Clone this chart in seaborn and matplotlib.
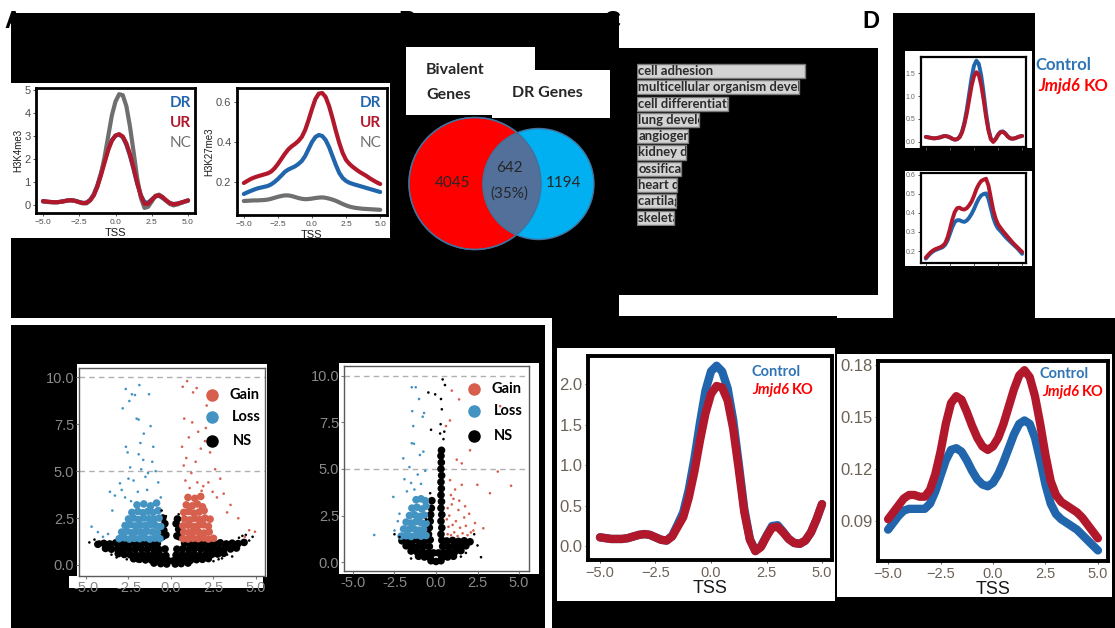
import numpy as np
import pandas as pd
import matplotlib
matplotlib.use("Agg")
import matplotlib.pyplot as plt
import seaborn as sns
from matplotlib.patches import Rectangle, Circle
from matplotlib.lines import Line2D
from matplotlib.transforms import TransformedBbox

sns.set_theme(style="white")
plt.rcParams['font.family'] = ['Liberation Sans', 'DejaVu Sans']

# ---------------- data ----------------
tss = [-5.0, -4.75, -4.5, -4.25, -4.0, -3.75, -3.5, -3.25, -3.0, -2.75, -2.5, -2.25, -2.0, -1.75,
       -1.5, -1.25, -1.0, -0.75, -0.5, -0.25, 0.0, 0.25, 0.5, 0.75, 1.0, 1.25, 1.5, 1.75, 2.0,
       2.25, 2.5, 2.75, 3.0, 3.25, 3.5, 3.75, 4.0, 4.25, 4.5, 4.75, 5.0]

# Panel A: H3K4me3 profile
a1_dr = [0.16, 0.14, 0.13, 0.12, 0.12, 0.14, 0.17, 0.2, 0.21, 0.18, 0.13, 0.09, 0.1, 0.22, 0.46, 0.86,
         1.38, 1.92, 2.45, 2.82, 3.02, 3.06, 2.95, 2.62, 2.14, 1.55, 0.92, 0.42, 0.12, 0.1, 0.24, 0.37,
         0.4, 0.3, 0.18, 0.08, 0.04, 0.06, 0.1, 0.14, 0.18]
a1_ur = [0.17, 0.15, 0.13, 0.12, 0.12, 0.14, 0.17, 0.2, 0.2, 0.17, 0.12, 0.08, 0.09, 0.2, 0.42, 0.8,
         1.3, 1.85, 2.4, 2.8, 3.02, 3.08, 2.98, 2.68, 2.2, 1.6, 0.95, 0.4, 0.05, 0.05, 0.22, 0.38,
         0.42, 0.33, 0.2, 0.08, 0.03, 0.05, 0.1, 0.15, 0.2]
a1_nc = [0.15, 0.13, 0.12, 0.12, 0.12, 0.14, 0.17, 0.2, 0.2, 0.17, 0.12, 0.07, 0.07, 0.2, 0.42, 0.8,
         1.35, 2.1, 3.0, 3.9, 4.5, 4.82, 4.78, 4.3, 3.4, 2.3, 1.15, 0.3, -0.13, -0.08, 0.15, 0.4,
         0.45, 0.35, 0.18, 0.04, -0.02, 0.02, 0.08, 0.14, 0.2]
# Panel A: H3K27me3 profile
a2_dr = [0.14, 0.148, 0.155, 0.162, 0.168, 0.172, 0.176, 0.18, 0.188, 0.2, 0.215, 0.232, 0.25, 0.262,
         0.27, 0.278, 0.29, 0.305, 0.33, 0.365, 0.4, 0.425, 0.435, 0.43, 0.41, 0.375, 0.33, 0.285,
         0.245, 0.22, 0.205, 0.196, 0.19, 0.185, 0.18, 0.175, 0.17, 0.165, 0.16, 0.155, 0.15]
a2_ur = [0.195, 0.205, 0.215, 0.222, 0.228, 0.233, 0.238, 0.243, 0.252, 0.268, 0.29, 0.315, 0.34,
         0.362, 0.378, 0.39, 0.405, 0.425, 0.46, 0.51, 0.565, 0.615, 0.642, 0.645, 0.625, 0.58, 0.52,
         0.455, 0.395, 0.345, 0.31, 0.29, 0.275, 0.262, 0.25, 0.24, 0.23, 0.218, 0.208, 0.198, 0.19]
a2_nc = [0.105, 0.106, 0.107, 0.108, 0.108, 0.109, 0.11, 0.112, 0.116, 0.121, 0.126, 0.13, 0.133,
         0.133, 0.13, 0.125, 0.12, 0.116, 0.114, 0.115, 0.117, 0.12, 0.122, 0.123, 0.121, 0.117,
         0.112, 0.106, 0.098, 0.09, 0.083, 0.077, 0.073, 0.07, 0.068, 0.066, 0.065, 0.064, 0.063,
         0.062, 0.061]

# Panel B: Venn
venn_bivalent_only = 4045
venn_overlap = 642
venn_overlap_pct = "35%"
venn_dr_only = 1194

# Panel C: GO terms (bar length, arbitrary units)
go_terms = ["cell adhesion", "multicellular organism development", "cell differentiation",
            "lung development", "angiogenesis", "kidney development", "ossification",
            "heart development", "cartilage development", "skeletal system development"]
go_scores = [168, 162, 91, 62, 51, 49, 44, 40, 39, 37]

# Panel D: small profiles
d1_ctl = [0.11, 0.1, 0.09, 0.08, 0.08, 0.09, 0.1, 0.12, 0.13, 0.12, 0.1, 0.07, 0.05, 0.06, 0.11, 0.22,
          0.42, 0.7, 1.05, 1.4, 1.66, 1.77, 1.7, 1.45, 1.07, 0.64, 0.29, 0.07, 0.01, 0.07, 0.16, 0.22,
          0.23, 0.19, 0.12, 0.08, 0.07, 0.08, 0.1, 0.12, 0.13]
d1_ko = [0.11, 0.1, 0.09, 0.08, 0.08, 0.09, 0.1, 0.12, 0.13, 0.12, 0.1, 0.07, 0.05, 0.06, 0.1, 0.2,
         0.38, 0.62, 0.92, 1.22, 1.43, 1.52, 1.46, 1.24, 0.92, 0.55, 0.25, 0.06, 0.0, 0.06, 0.15, 0.21,
         0.22, 0.18, 0.12, 0.08, 0.07, 0.08, 0.1, 0.12, 0.13]
d2_ctl = [0.16, 0.175, 0.188, 0.198, 0.205, 0.21, 0.215, 0.22, 0.232, 0.255, 0.29, 0.325, 0.352, 0.362,
          0.362, 0.356, 0.353, 0.36, 0.375, 0.395, 0.42, 0.45, 0.475, 0.492, 0.5, 0.503, 0.475, 0.425,
          0.375, 0.34, 0.318, 0.305, 0.29, 0.275, 0.262, 0.25, 0.238, 0.226, 0.214, 0.2, 0.185]
d2_ko = [0.165, 0.18, 0.193, 0.203, 0.21, 0.215, 0.22, 0.227, 0.24, 0.27, 0.315, 0.365, 0.405, 0.425,
         0.428, 0.42, 0.418, 0.425, 0.44, 0.46, 0.49, 0.525, 0.55, 0.568, 0.575, 0.58, 0.545, 0.48,
         0.415, 0.37, 0.34, 0.322, 0.305, 0.29, 0.275, 0.26, 0.245, 0.232, 0.22, 0.207, 0.195]

# Panel F / G profiles
f_ctl = [0.11, 0.10, 0.09, 0.09, 0.09, 0.10, 0.12, 0.14, 0.15, 0.14, 0.11, 0.08, 0.07, 0.13, 0.27, 0.42,
         0.70, 1.08, 1.52, 1.92, 2.16, 2.23, 2.16, 1.95, 1.56, 1.02, 0.46, 0.09, -0.06, 0.0, 0.13, 0.25,
         0.26, 0.18, 0.09, 0.04, 0.03, 0.07, 0.17, 0.33, 0.52]
f_ko = [0.11, 0.10, 0.09, 0.09, 0.09, 0.10, 0.12, 0.14, 0.15, 0.14, 0.11, 0.08, 0.07, 0.12, 0.24, 0.36,
        0.60, 0.92, 1.30, 1.64, 1.88, 1.98, 1.96, 1.80, 1.45, 0.95, 0.42, 0.08, -0.06, -0.01, 0.12, 0.23,
        0.24, 0.17, 0.09, 0.04, 0.03, 0.07, 0.17, 0.33, 0.52]
g_ctl = [0.085, 0.089, 0.093, 0.096, 0.097, 0.097, 0.097, 0.097, 0.1, 0.107, 0.116, 0.125, 0.131, 0.132,
         0.13, 0.125, 0.119, 0.114, 0.111, 0.11, 0.112, 0.117, 0.124, 0.132, 0.14, 0.146, 0.148, 0.146,
         0.138, 0.125, 0.111, 0.1, 0.094, 0.091, 0.089, 0.087, 0.085, 0.082, 0.079, 0.076, 0.073]
g_ko = [0.091, 0.095, 0.099, 0.103, 0.105, 0.105, 0.104, 0.104, 0.108, 0.117, 0.13, 0.146, 0.158, 0.162,
        0.16, 0.153, 0.145, 0.138, 0.133, 0.131, 0.133, 0.138, 0.146, 0.156, 0.166, 0.174, 0.177, 0.173,
        0.162, 0.146, 0.128, 0.113, 0.105, 0.101, 0.099, 0.097, 0.095, 0.092, 0.088, 0.084, 0.08]

# Panel E: volcano plots (log2FC, -log10 p)
v1_loss_x = [-2.45, -2.3, -2.12, -2.66, -1.86, -1.29, -2.84, -2.02, -1.9, -1.6, -1.2, -2.65, -2.55, -1.8,
             -1.04, -1.9, -1.63, -1.1, -2.4, -1.75, -1.35, -2.5, -3.0, -3.59, -3.3, -4.67, -4.3, -4.0,
             -3.7, -2.9, -2.2, -1.5, -0.9, -0.75, -2.7, -1.95, -1.4, -3.45, -2.35, -0.6]
v1_loss_y = [8.74, 9.1, 9.06, 9.38, 9.59, 9.1, 8.35, 7.8, 7.75, 7.0, 7.4, 6.3, 6.0, 6.5, 6.3, 5.9, 5.6,
             5.5, 5.2, 5.1, 4.9, 4.6, 4.35, 3.9, 3.7, 2.04, 1.75, 1.5, 1.65, 4.0, 4.5, 4.7, 5.0, 4.4,
             3.6, 3.9, 4.0, 2.9, 3.4, 3.6]
v1_loss_core_x = [-3.05, -2.75, -2.45, -2.15, -1.85, -1.55, -1.25, -0.95, -0.65,
                  -2.9, -2.6, -2.3, -2.0, -1.7, -1.4, -1.1, -0.8,
                  -2.7, -2.4, -2.1, -1.8, -1.5, -1.2, -0.9, -0.6,
                  -2.5, -2.2, -1.9, -1.6, -1.3, -1.0, -0.7,
                  -2.3, -1.95, -1.65, -1.35, -1.05, -0.75,
                  -2.0, -1.6, -1.2, -0.85]
v1_loss_core_y = [1.4, 1.45, 1.38, 1.42, 1.4, 1.45, 1.38, 1.43, 1.4,
                  1.75, 1.8, 1.72, 1.78, 1.74, 1.8, 1.76, 1.72,
                  2.1, 2.15, 2.08, 2.12, 2.1, 2.16, 2.1, 2.05,
                  2.45, 2.5, 2.42, 2.5, 2.46, 2.44, 2.5,
                  2.8, 2.85, 2.78, 2.86, 2.8, 2.9,
                  3.2, 3.25, 3.15, 3.3]
v1_gain_x = [0.69, 0.95, 1.51, 1.3, 2.1, 0.78, 1.25, 1.6, 1.05, 2.0, 1.75, 2.3, 0.9, 1.45, 2.6, 2.9, 1.2,
             0.75, 2.2, 3.1, 3.5, 3.96, 4.35, 4.94, 4.6, 2.7, 1.9, 1.55, 0.85, 2.45, 1.1, 1.8, 3.3,
             0.65, 2.05]
v1_gain_y = [9.5, 9.8, 9.43, 9.2, 8.5, 7.8, 7.6, 7.1, 6.8, 6.6, 6.2, 6.0, 5.7, 5.5, 5.1, 4.6, 4.9, 5.3,
             4.4, 3.8, 3.2, 2.49, 1.5, 1.77, 1.85, 3.6, 4.2, 4.4, 4.5, 3.9, 4.1, 3.95, 2.8, 6.3, 7.3]
v1_gain_core_x = [0.7, 1.0, 1.3, 1.6, 1.9, 2.2, 2.5,
                  0.75, 1.05, 1.35, 1.65, 1.95, 2.25,
                  0.7, 1.0, 1.3, 1.6, 1.9, 2.2,
                  0.8, 1.1, 1.4, 1.7, 2.0, 2.3,
                  0.75, 1.05, 1.35, 1.65, 1.95,
                  0.9, 1.25, 1.55, 1.85,
                  1.0, 1.4, 1.75]
v1_gain_core_y = [1.4, 1.38, 1.42, 1.4, 1.44, 1.38, 1.42,
                  1.75, 1.72, 1.78, 1.74, 1.7, 1.76,
                  2.08, 2.12, 2.05, 2.1, 2.14, 2.06,
                  2.45, 2.4, 2.48, 2.42, 2.5, 2.44,
                  2.8, 2.85, 2.76, 2.82, 2.9,
                  3.2, 3.15, 3.25, 3.1,
                  3.6, 3.55, 3.65]
v1_ns_x = [-4.5, -4.2, -3.5, -3.2, -2.6, -2.0, -1.5, 3.0, 2.8, 3.6, 4.0, 4.4, 4.6, 4.2, -0.55, 0.45,
           -0.3, 0.25, -4.8, 2.5, 1.2, -1.1, 3.3, 4.8]
v1_ns_y = [1.35, 1.25, 0.55, 0.4, 0.3, 0.2, 0.15, 0.35, 0.3, 0.45, 1.45, 1.6, 1.3, 1.55, 2.9, 2.7, 2.6,
           2.45, 1.2, 0.2, 0.12, 0.12, 0.55, 1.5]
v1_ns_core_x = [-4.3, -3.95, -3.6, -3.25, -2.9, -2.55, -2.2, -1.85, -1.5, -1.15, -0.8, 0.8, 1.15, 1.5,
                1.85, 2.2, 2.55, 2.9, 3.25, 3.6, 3.95, 4.3,
                -3.85, -3.5, -3.15, -2.8, -2.45, -2.1, -1.75, -1.4, -1.05, -0.7, -0.35, 0.35, 0.7, 1.05,
                1.4, 1.75, 2.1, 2.45, 2.8, 3.15, 3.5, 3.85,
                -3.1, -2.75, -2.4, -2.05, -1.7, -1.35, -1.0, -0.65, -0.3, 0.3, 0.65, 1.0, 1.35, 1.7,
                2.05, 2.4, 2.75, 3.1,
                -2.2, -1.85, -1.5, -1.15, -0.8, -0.45, -0.15, 0.15, 0.45, 0.8, 1.15, 1.5, 1.85, 2.2,
                -1.0, -0.6, -0.25, 0.25, 0.6, 1.0,
                -0.5, -0.42, -0.36, -0.48, -0.3, 0.35, 0.45, 0.3, 0.5, 0.38]
v1_ns_core_y = [1.1, 1.15, 1.12, 1.18, 1.14, 1.1, 1.16, 1.12, 1.18, 1.13, 1.15, 1.16, 1.12, 1.17, 1.11,
                1.15, 1.13, 1.18, 1.12, 1.16, 1.14, 1.2,
                0.88, 0.84, 0.86, 0.82, 0.85, 0.83, 0.87, 0.84, 0.86, 0.82, 0.85, 0.84, 0.86, 0.83,
                0.87, 0.85, 0.82, 0.86, 0.84, 0.88, 0.85, 0.9,
                0.6, 0.56, 0.54, 0.52, 0.55, 0.53, 0.56, 0.52, 0.5, 0.52, 0.55, 0.53, 0.56, 0.52, 0.54,
                0.56, 0.58, 0.62,
                0.33, 0.3, 0.27, 0.26, 0.25, 0.24, 0.22, 0.22, 0.24, 0.25, 0.26, 0.28, 0.3, 0.34,
                0.1, 0.07, 0.05, 0.05, 0.07, 0.1,
                1.5, 1.85, 2.2, 2.5, 1.6, 1.55, 1.9, 2.2, 1.5, 2.45]

v2_loss_x = [-1.46, -1.22, -1.02, -1.43, -0.72, -0.8, -1.37, -1.46, -1.33, -0.76, -1.97, -0.97, -1.6,
             -1.9, -1.5, -2.57, -3.72, -2.5, -2.2, -1.1, -0.65, -2.3, -1.75, -0.9, -1.3]
v2_loss_y = [9.38, 9.38, 8.75, 8.1, 8.0, 7.8, 7.3, 6.38, 6.35, 5.93, 5.57, 5.75, 5.1, 4.45, 4.25, 3.5,
             1.46, 1.7, 2.6, 4.7, 4.9, 2.2, 3.8, 4.2, 3.9]
v2_loss_core_x = [-2.1, -1.8, -1.5, -1.2, -0.9, -0.6,
                  -1.95, -1.65, -1.35, -1.05, -0.75,
                  -1.8, -1.5, -1.2, -0.9, -0.6,
                  -1.6, -1.3, -1.0, -0.7,
                  -1.45, -1.15, -0.85, -0.6,
                  -1.2, -0.9, -0.65]
v2_loss_core_y = [1.4, 1.42, 1.38, 1.45, 1.4, 1.43,
                  1.78, 1.75, 1.8, 1.72, 1.76,
                  2.15, 2.1, 2.18, 2.12, 2.08,
                  2.5, 2.55, 2.45, 2.52,
                  2.9, 2.95, 2.85, 3.0,
                  3.35, 3.4, 3.3]
v2_gain_x = [0.95, 1.39, 3.86, 0.84, 0.6, 2.05, 1.25, 1.55, 3.72, 4.52, 3.25, 2.49, 1.55, 1.15, 0.85,
             2.85, 2.25, 0.7, 0.9, 1.1, 1.3, 1.6, 1.9, 2.1, 0.75, 1.0, 1.45, 1.8, 0.65, 0.8, 1.2, 1.7,
             2.0, 0.7, 0.95, 1.35, 1.05, 0.9, 1.4, 2.35, 1.75]
v2_gain_y = [9.2, 8.73, 8.37, 7.6, 7.3, 6.0, 5.5, 5.3, 4.86, 4.1, 3.7, 4.15, 4.15, 3.9, 4.4, 1.82, 1.7,
             1.5, 1.45, 1.6, 1.4, 1.55, 1.45, 1.6, 1.9, 2.0, 1.85, 1.95, 2.3, 2.5, 2.2, 2.4, 2.6, 2.9,
             3.1, 2.8, 3.4, 3.6, 3.3, 2.1, 3.0]
v2_ns_x = [0.4, 0.54, 0.3, -0.46, -0.3, 0.35, 0.28, 0.45, -0.05, 2.71, 2.3, 2.06, -2.5, -2.2, 1.8, 2.5,
           0.5, 0.25, -0.35, -0.6, 1.5, -1.5]
v2_ns_y = [9.8, 9.5, 8.75, 9.1, 7.1, 8.2, 7.4, 6.6, 9.0, 0.27, 1.5, 1.05, 1.5, 1.35, 0.5, 0.9, 7.0, 6.9,
           3.7, 2.3, 0.3, 0.2]
v2_ns_core_x = [-2.05, -1.7, -1.35, -1.0, -0.65, -0.35, 0.35, 0.65, 1.0, 1.35, 1.7, 2.05,
                -1.8, -1.45, -1.1, -0.75, -0.4, 0.4, 0.75, 1.1, 1.45, 1.8,
                -1.5, -1.15, -0.8, -0.45, -0.15, 0.15, 0.45, 0.8, 1.15, 1.5,
                -1.05, -0.7, -0.35, 0.35, 0.7, 1.05,
                -0.3, 0.0, 0.3,
                -0.45, -0.4, -0.35, -0.32, -0.28, -0.25, -0.55,
                0.3, 0.35, 0.3, 0.35, 0.3, 0.33, 0.3, 0.32, 0.3, 0.34, 0.3, 0.32, 0.3, 0.33]
v2_ns_core_y = [1.15, 1.12, 1.17, 1.13, 1.16, 1.2, 1.18, 1.14, 1.17, 1.12, 1.15, 1.1,
                0.88, 0.85, 0.83, 0.86, 0.84, 0.85, 0.83, 0.86, 0.84, 0.88,
                0.6, 0.56, 0.54, 0.52, 0.5, 0.5, 0.53, 0.55, 0.57, 0.62,
                0.32, 0.28, 0.25, 0.25, 0.28, 0.32,
                0.08, 0.04, 0.08,
                1.5, 1.85, 2.2, 2.55, 2.9, 3.3, 1.9,
                1.5, 1.85, 2.2, 2.55, 2.9, 3.25, 3.6, 3.95, 4.3, 4.65, 5.0, 5.35, 5.7, 6.0]
volcano_thresholds = [5.0, 10.0]

# tick labels
tss_ticks = [-5.0, -2.5, 0.0, 2.5, 5.0]
tss_labels = ["\u22125.0", "\u22122.5", "0.0", "2.5", "5.0"]
volc_xlabels = ["-5.0", "-2.5", "0.0", "2.5", "5.0"]
volc_yticks = [0.0, 2.5, 5.0, 7.5, 10.0]
volc_ylabels = ["0.0", "2.5", "5.0", "7.5", "10.0"]

# ---------------- styling ----------------
BLUE = "#2166ac"
RED = "#b2182b"
GREY = "#6f6f6f"
TXT_BLUE = "#2e75b6"
TXT_RED = "#ff0000"
GAIN = "#d6604d"
LOSS = "#4393c3"
CAL = ['Lato', 'DejaVu Sans']

W, H = 1115, 628
fig = plt.figure(figsize=(W / 100, H / 100), dpi=100)
fig.patch.set_facecolor("white")


def box(x0, y0, x1, y1):
    return [x0 / W, 1 - y1 / H, (x1 - x0) / W, (y1 - y0) / H]


def rect(x0, y0, x1, y1, color, z):
    fig.add_artist(Rectangle((x0 / W, 1 - y1 / H), (x1 - x0) / W, (y1 - y0) / H,
                             transform=fig.transFigure, facecolor=color, edgecolor="none", zorder=z))


def ftext(x, y, s, **kw):
    kw.setdefault("va", "center")
    return fig.text(x / W, 1 - y / H, s, **kw)


# panel letters (partly hidden)
for (lx, ly, l) in [(4, 22, "A"), (398, 22, "B"), (604, 22, "C"), (862, 21, "D")]:
    ftext(lx, ly, l, fontsize=17, fontweight="bold", color="black", zorder=-3)

# black redaction blocks
for r in [(11, 13, 619, 318), (619, 48, 878, 295), (893, 13, 1035, 318),
          (11, 325, 545, 628), (552, 316, 837, 628), (836, 318, 1115, 628)]:
    rect(*r, "black", -2)
# white panel boxes
for r in [(11, 83, 390, 238), (406, 47, 535, 115), (492, 70, 610, 118),
          (905, 51, 1032, 148), (905, 171, 1032, 266),
          (77, 364, 267, 577), (69, 576, 263, 588), (339, 363, 539, 574),
          (557, 348, 835, 601), (837, 354, 1112, 597)]:
    rect(*r, "white", -1)


def profile(px, xlim, ylim, series, colors, lw, yticks, ylabels, ytick_fs, xtick_fs,
            show_xlabels=True, ylab=None, xlab="TSS", xlab_fs=8, spine_lw=2.0,
            tick_color="#4d4d4d", xlab_pad=0.5):
    ax = fig.add_axes(box(*px))
    names = list(series.keys())
    df = pd.DataFrame({"TSS": tss * len(names),
                       "signal": sum([series[n] for n in names], []),
                       "group": sum([[n] * len(tss) for n in names], [])})
    sns.lineplot(data=df, x="TSS", y="signal", hue="group", hue_order=names,
                 palette=colors, linewidth=lw, legend=False, errorbar=None, ax=ax,
                 solid_capstyle="round")
    ax.set_xlim(*xlim)
    ax.set_ylim(*ylim)
    ax.set_facecolor("white")
    for s in ax.spines.values():
        s.set_color("black")
        s.set_linewidth(spine_lw)
    ax.set_yticks(yticks)
    ax.set_yticklabels(ylabels)
    ax.set_xticks(tss_ticks)
    if show_xlabels:
        ax.set_xticklabels(tss_labels)
    else:
        ax.set_xticklabels([])
    ax.tick_params(axis="both", which="both", direction="out", bottom=True, left=True,
                   length=2.5, width=0.7, color="#555555", pad=1.5)
    ax.tick_params(axis="y", labelsize=ytick_fs, labelcolor=tick_color)
    ax.tick_params(axis="x", labelsize=xtick_fs, labelcolor=tick_color)
    if show_xlabels and xlab:
        ax.set_xlabel(xlab, fontsize=xlab_fs, labelpad=xlab_pad, color="#1a1a1a")
    else:
        ax.set_xlabel("")
    ax.set_ylabel(ylab if ylab else "", fontsize=7, labelpad=1, color="#1a1a1a")
    ax.grid(False)
    return ax


# ---- Panel A ----
profile((36, 88, 195, 213), (-5.48, 5.48), (-0.35, 5.09),
        {"DR": a1_dr, "NC": a1_nc, "UR": a1_ur}, {"DR": BLUE, "NC": GREY, "UR": RED},
        3.0, [0, 1, 2, 3, 4, 5], ["0", "1", "2", "3", "4", "5"], 8, 6, ylab="H3K4me3",
        xlab_fs=8, xlab_pad=1.5)
profile((237, 88, 387, 215), (-5.5, 5.5), (0.035, 0.67),
        {"NC": a2_nc, "DR": a2_dr, "UR": a2_ur}, {"DR": BLUE, "NC": GREY, "UR": RED},
        3.0, [0.2, 0.4, 0.6], ["0.2", "0.4", "0.6"], 8, 6, ylab="H3K27me3", xlab_fs=8,
        xlab_pad=1.5)
for x0 in [170, 360]:
    ftext(x0, 103, "DR", color=BLUE, fontsize=11, fontweight="bold", family=CAL)
    ftext(x0, 123, "UR", color=RED, fontsize=11, fontweight="bold", family=CAL)
    ftext(x0, 143, "NC", color="#707070", fontsize=11, family=CAL)

# ---- Panel B: Venn ----
axv = fig.add_axes(box(400, 110, 620, 260))
axv.set_xlim(400, 620)
axv.set_ylim(260, 110)
axv.axis("off")
red_c = Circle((475, 183.5), 66, facecolor="#ff0000", edgecolor="#41719c", lw=1.0)
blue_c = Circle((538.5, 184), 55.5, facecolor="#00b0f0", edgecolor="#41719c", lw=1.0)
axv.add_patch(red_c)
axv.add_patch(blue_c)
inter = Circle((538.5, 184), 55.5, facecolor="#52709a", edgecolor="#41719c", lw=1.0)
axv.add_patch(inter)
inter.set_clip_path(red_c)
axv.add_patch(Circle((475, 183.5), 66, facecolor="none", edgecolor="#41719c", lw=1.0))
axv.text(453, 183, f"{venn_bivalent_only}", ha="center", va="center", fontsize=11, family=CAL)
axv.text(509, 168, f"{venn_overlap}", ha="center", va="center", fontsize=11, family=CAL)
axv.text(509, 194, f"({venn_overlap_pct})", ha="center", va="center", fontsize=11, family=CAL)
axv.text(564, 183, f"{venn_dr_only}", ha="center", va="center", fontsize=11, family=CAL)
ftext(426, 70, "Bivalent", fontsize=11.5, fontweight="bold", family=CAL)
ftext(426, 95, "Genes", fontsize=11.5, fontweight="bold", family=CAL)
ftext(512, 93, "DR Genes", fontsize=11.5, fontweight="bold", family=CAL)

# ---- Panel C: GO bars ----
axc = fig.add_axes(box(637, 62.85, 810, 225.85))
go_df = pd.DataFrame({"term": go_terms, "score": go_scores})
sns.barplot(data=go_df, x="score", y="term", orient="h", color="#d3d3d3", edgecolor="#7a7a7a",
            linewidth=1.0, width=0.86, ax=axc, saturation=1)
axc.set_xlim(0, 173)
axc.set_ylim(9.5, -0.5)
axc.axis("off")
for i, (bar, term) in enumerate(zip(axc.patches, go_terms)):
    t = axc.text(1.5, i, term, va="center", ha="left", fontsize=9.4, fontweight="bold",
                 color="#2b2b2b", family=CAL, clip_on=True)
    t.set_clip_box(TransformedBbox(bar.get_bbox(), axc.transData))

# ---- Panel D ----
profile((921, 57, 1026, 147), (-5.5, 5.4), (-0.11, 1.85),
        {"Control": d1_ctl, "KO": d1_ko}, {"Control": BLUE, "KO": RED},
        2.8, [0.0, 0.5, 1.0, 1.5], ["0.0", "0.5", "1.0", "1.5"], 5, 5, show_xlabels=False,
        spine_lw=1.6, tick_color="#666666")
profile((921, 173, 1026, 263), (-5.5, 5.4), (0.137, 0.61),
        {"Control": d2_ctl, "KO": d2_ko}, {"Control": BLUE, "KO": RED},
        2.8, [0.2, 0.3, 0.4, 0.5, 0.6], ["0.2", "0.3", "0.4", "0.5", "0.6"], 5, 5,
        show_xlabels=False, spine_lw=1.6, tick_color="#666666")

jm_texts = []
ftext(1035, 65, "Control", color=TXT_BLUE, fontsize=12, fontweight="bold", family=CAL)
jm_texts.append((ftext(1038, 86, "Jmjd6", color=TXT_RED, fontsize=12, fontweight="bold",
                       style="italic", family=CAL), 12))


# ---- Panel E: volcano plots ----
def volcano(px, xlim, ylim, pts, legend_xy, text_x):
    ax = fig.add_axes(box(*px))
    ax.set_facecolor("white")
    pal = {"NS": "black", "Loss": LOSS, "Gain": GAIN}
    for part, size in [("core", 30), ("sparse", 3.5)]:
        frames = []
        for st in ["NS", "Loss", "Gain"]:
            xs, ys = pts[st][part]
            frames.append(pd.DataFrame({"log2FC": xs, "neglog10p": ys, "status": st}))
        df = pd.concat(frames, ignore_index=True)
        sns.scatterplot(data=df, x="log2FC", y="neglog10p", hue="status", palette=pal,
                        s=size, linewidth=0, legend=False, ax=ax, zorder=3)
    for t in volcano_thresholds:
        ax.axhline(t, color="#b0b0b0", lw=1.0, ls=(0, (4, 3)), zorder=2)
    ax.set_xlim(*xlim)
    ax.set_ylim(*ylim)
    ax.set_xticks(tss_ticks)
    ax.set_xticklabels(volc_xlabels)
    ax.set_yticks(volc_yticks)
    ax.set_yticklabels(volc_ylabels)
    ax.tick_params(axis="both", direction="out", bottom=True, left=True, length=2, width=0.8,
                   color="#808080", labelsize=10.5, labelcolor="#8a8a8a", pad=1.5)
    for s in ax.spines.values():
        s.set_color("#5a5a5a")
        s.set_linewidth(1.0)
    ax.set_xlabel("")
    ax.set_ylabel("")
    ax.grid(False)
    mx, my = legend_xy
    for k, (lab, col) in enumerate([("Gain", GAIN), ("Loss", LOSS), ("NS", "black")]):
        yy = my[k]
        fig.add_artist(Line2D([mx / W], [1 - yy / H], marker="o", ls="", ms=8, color=col,
                              transform=fig.transFigure, zorder=5))
        ftext(text_x[k], yy, lab, fontsize=10.5, fontweight="bold", color="black", family=CAL)
    return ax


volcano((79, 368, 265, 576), (-5.41, 5.53), (-0.59, 10.5),
        {"NS": {"sparse": (v1_ns_x, v1_ns_y), "core": (v1_ns_core_x, v1_ns_core_y)},
         "Loss": {"sparse": (v1_loss_x, v1_loss_y), "core": (v1_loss_core_x, v1_loss_core_y)},
         "Gain": {"sparse": (v1_gain_x, v1_gain_y), "core": (v1_gain_core_x, v1_gain_core_y)}},
        (212, [395, 417, 441]), [229, 232, 233])
volcano((344, 366, 529, 571), (-5.54, 5.6), (-0.47, 10.52),
        {"NS": {"sparse": (v2_ns_x, v2_ns_y), "core": (v2_ns_core_x, v2_ns_core_y)},
         "Loss": {"sparse": (v2_loss_x, v2_loss_y), "core": (v2_loss_core_x, v2_loss_core_y)},
         "Gain": {"sparse": (v2_gain_x, v2_gain_y), "core": ([], [])}},
        (474, [389, 411, 436]), [492, 494, 494])

# ---- Panel F / G ----
profile((588, 356, 832, 560), (-5.54, 5.45), (-0.17, 2.35),
        {"Control": f_ctl, "KO": f_ko}, {"Control": BLUE, "KO": RED},
        6.0, [0.0, 0.5, 1.0, 1.5, 2.0], ["0.0", "0.5", "1.0", "1.5", "2.0"], 12, 10.5,
        xlab_fs=13, spine_lw=2.8, tick_color="#6b6258")
profile((878, 361, 1108, 561), (-5.48, 5.48), (0.0669, 0.1823),
        {"Control": g_ctl, "KO": g_ko}, {"Control": BLUE, "KO": RED},
        6.0, [0.09, 0.12, 0.15, 0.18], ["0.09", "0.12", "0.15", "0.18"], 12, 10.5,
        xlab_fs=13, spine_lw=2.8, tick_color="#6b6258")
ftext(752, 372, "Control", color=TXT_BLUE, fontsize=10.5, fontweight="bold", family=CAL)
jm_texts.append((ftext(752, 390, "Jmjd6", color=TXT_RED, fontsize=10.5, fontweight="bold",
                       style="italic", family=CAL), 10.5))
ftext(1039, 374, "Control", color=TXT_BLUE, fontsize=10.5, fontweight="bold", family=CAL)
jm_texts.append((ftext(1042, 392, "Jmjd6", color=TXT_RED, fontsize=10.5, fontweight="bold",
                       style="italic", family=CAL), 10.5))

fig.canvas.draw()
renderer = fig.canvas.get_renderer()
for t, fs in jm_texts:
    bb = t.get_window_extent(renderer)
    x_px = bb.x1 + fs * 0.3
    fig.text(x_px / fig.bbox.width, t.get_position()[1], "KO", color=TXT_RED, fontsize=fs,
             fontweight="bold", va="center", family=CAL)

fig.savefig("out.png", dpi=100, facecolor="white")
